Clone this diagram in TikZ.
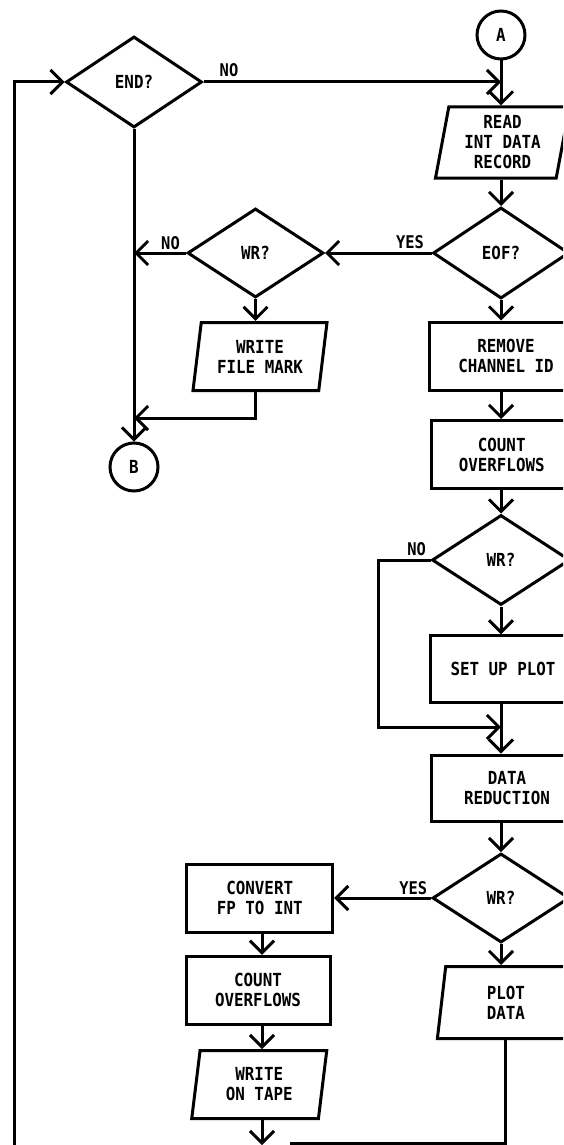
\documentclass[tikz,border=0pt]{standalone}
\usepackage{fontspec}
\setmainfont[FakeStretch=0.88]{DejaVu Sans Mono}
\usetikzlibrary{shapes.geometric,arrows.meta,calc}
\begin{document}
\begin{tikzpicture}[x=1pt,y=-1pt, line width=3pt,
  >={Straight Barb[length=12pt,width=24pt]},
  every node/.style={font=\fontsize{18}{20}\selectfont\bfseries, align=center, inner sep=0pt},
  box/.style={draw, rectangle, minimum height=68pt},
  dec/.style={draw, diamond, minimum width=136pt, minimum height=91pt},
  io/.style={draw, trapezium, trapezium left angle=76, trapezium right angle=104,
             trapezium stretches body, minimum height=68pt, minimum width=134pt},
  conn/.style={draw, circle, minimum size=48pt},
  lbl/.style={font=\fontsize{17.5}{18}\selectfont\bfseries}]
\useasboundingbox (0,0) rectangle (563,1145);
\clip (0,0) rectangle (563,1145);

% nodes
\node[conn] (A) at (501,35) {A};
\node[dec] (END) at (134,82) {END?};
\node[io, minimum height=71pt] (READ) at (502.5,142.5) {READ\\INT DATA\\RECORD};
\node[dec] (EOF) at (501,253) {EOF?};
\node[dec, minimum height=89pt] (WR1) at (255.5,253) {WR?};
\node[io] (WFM) at (260,356.5) {WRITE\\FILE MARK};
\node[conn] (B) at (134,467) {B};
\node[box, minimum width=153pt] (REM) at (506,356) {REMOVE\\CHANNEL ID};
\node[box, minimum width=140pt] (CNT1) at (501.7,454.5) {COUNT\\OVERFLOWS};
\node[dec, minimum width=138pt, minimum height=90pt] (WR2) at (501,560) {WR?};
\node[box, minimum width=145pt, minimum height=67pt] (SET) at (503,669.4) {SET UP PLOT};
\node[box, minimum width=152pt, minimum height=66pt] (RED) at (507,788) {DATA\\REDUCTION};
\node[dec, minimum width=137pt, minimum height=89pt] (WR3) at (501,898) {WR?};
\node[io, minimum height=72pt, minimum width=137pt] (PLOT) at (505.9,1002.5) {PLOT\\DATA};
\node[box, minimum width=146pt] (CONV) at (259.7,898) {CONVERT\\FP TO INT};
\node[box, minimum width=144pt] (CNT2) at (258,990.3) {COUNT\\OVERFLOWS};
\node[io, minimum width=135pt] (WOT) at (259.25,1084.5) {WRITE\\ON TAPE};

% labels
\node[lbl] (lno1) at (229,70) {NO};
\node[lbl] (lyes1) at (410,242) {YES};
\node[lbl] (lno2) at (170.5,243) {NO};
\node[lbl] (lno3) at (416.7,549) {NO};
\node[lbl] (lyes2) at (413.3,888) {YES};

% junction coordinates
\coordinate (jA) at (A.south |- END.east);
\coordinate (jB) at (134,418);
\coordinate (jC) at (378,727);
\coordinate (jD) at (290,1143);
\coordinate (bot) at (262,1145);
\coordinate (jE) at (14,1150);

% connectors
\draw[->] (END.east) -- (jA);
\draw[->] (A.south) -- (A.south |- READ.north);
\draw[->] (EOF.north |- READ.south) -- (EOF.north);
\draw[->] (EOF.west) -- (WR1.east);
\draw[->] (WR1.west) -- (END.south |- WR1.west);
\draw[->] (END.south) -- (B.north);
\draw[->] (WR1.south) -- (WR1.south |- WFM.north);
\draw[->] (WR1.south |- WFM.south) -- (WR1.south |- jB) -- (jB);
\draw[->] (EOF.south) -- (EOF.south |- REM.north);
\draw[->] (EOF.south |- REM.south) -- (EOF.south |- CNT1.north);
\draw[->] (EOF.south |- CNT1.south) -- (WR2.north);
\draw[->] (WR2.south) -- (WR2.south |- SET.north);
\draw[->] (WR2.south |- SET.south) -- (WR2.south |- RED.north);
\draw[->] (WR2.west) -- (jC |- WR2.west) -- (jC) -- (WR2.south |- jC);
\draw[->] (WR2.south |- RED.south) -- (WR3.north);
\draw[->] (WR3.west) -- (CONV.east);
\draw[->] (WR3.south) -- (WR3.south |- PLOT.north);
\draw[->] (bot |- CONV.south) -- (bot |- CNT2.north);
\draw[->] (bot |- CNT2.south) -- (bot |- WOT.north);
\draw[->] (bot |- WOT.south) -- (bot);
\draw (PLOT.south) -- (PLOT.south |- jD) -- (jD);
\draw[->] (jE) -- (jE |- END.west) -- (END.west);
\end{tikzpicture}
\end{document}
